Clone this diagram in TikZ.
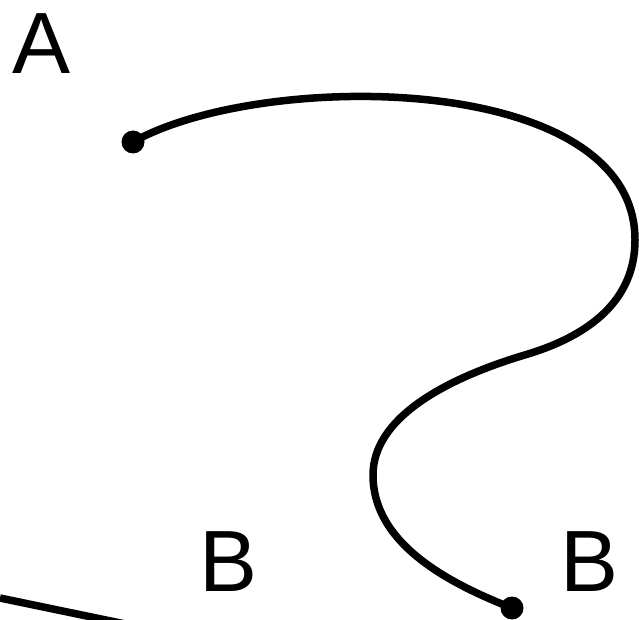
\documentclass[tikz,border=0pt]{standalone}
\usepackage{fontspec}
\setmainfont{Liberation Sans}
\begin{document}
\begin{tikzpicture}[x=1pt,y=-1pt,
  curve/.style={line width=7.5pt,line cap=round,black},
  dotmark/.style={circle,fill=black,inner sep=0pt,minimum size=23pt},
  letter/.style={inner sep=0pt,font=\fontsize{87}{87}\selectfont}]
\useasboundingbox (0,0) rectangle (639,620);
\node[letter] (lA) at (42,44) {A};
\node[letter] (lB1) at (229,562) {B};
\node[letter] (lB2) at (590,562) {B};
\coordinate (a) at (133,142);
\coordinate (r) at (635,240);
\coordinate (k) at (528,354);
\coordinate (l) at (373,475);
\coordinate (b) at (512,608);
\draw[curve] (a) .. controls (260,70) and (635,70) .. (r)
  .. controls (635,300) and (590,335) .. (k)
  .. controls (440,380) and (373,420) .. (l)
  .. controls (373,540) and (440,580) .. (b);
\node[dotmark] (dA) at (a) {};
\node[dotmark] (dB) at (b) {};
\begin{scope}
\clip (0,0) rectangle (639,620);
\coordinate (s0) at (0,598);
\coordinate (s1) at (130,625);
\draw[curve,line cap=butt] (s0) -- (s1);
\end{scope}
\end{tikzpicture}
\end{document}
